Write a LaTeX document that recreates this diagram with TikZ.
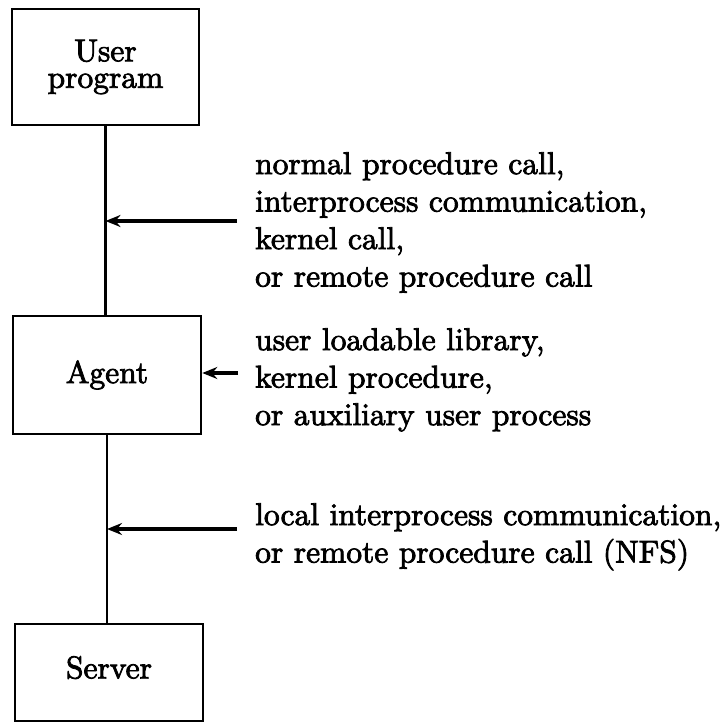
\documentclass[tikz,border=0pt]{standalone}
\usepackage{fontspec}
\newfontfamily\heavyfont{lmroman10-regular.otf}[FakeBold=2.5]
\usetikzlibrary{arrows.meta}
\begin{document}
\begin{tikzpicture}[x=1pt,y=-1pt,
  every node/.style={font=\heavyfont\fontsize{31.5}{37.5}\selectfont},
  boxnode/.style={draw,line width=2.6pt,inner sep=0pt,align=center},
  vline/.style={line width=2.4pt},
  callarrow/.style={line width=4.5pt,-{Stealth[length=15pt,width=12pt,inset=5pt]}},
  label/.style={align=left,anchor=north west,inner sep=0pt}]
\useasboundingbox (0,0) rectangle (725,722);
\node[boxnode,minimum width=187pt,minimum height=116pt,font=\heavyfont\fontsize{31.5}{26.5}\selectfont] (user) at (105.5,67) {User\\program};
\node[boxnode,minimum width=188pt,minimum height=118pt] (agent) at (107,375) {Agent};
\node[boxnode,minimum width=188pt,minimum height=97pt,text depth=10.5pt] (server) at (109,672.5) {Server};
\draw[vline] (user.south) -- (user.south |- agent.north);
\draw[vline] (agent.south) -- (agent.south |- server.north);
\coordinate (a1) at (237,221);
\coordinate (a2) at (238,373);
\coordinate (a3) at (237,529);
\draw[callarrow] (a1) -- (a1 -| user.south);
\draw[callarrow] (a2) -- (a2 -| agent.east);
\draw[callarrow] (a3) -- (a3 -| agent.south);
\node[label] (t1) at (255,152) {normal procedure call,\\interprocess communication,\\kernel call,\\or remote procedure call};
\node[label] (t2) at (255,328) {user loadable library,\\kernel procedure,\\or auxiliary user process};
\node[label] (t3) at (255,503) {local interprocess communication,\\or remote procedure call (NFS)};
\end{tikzpicture}
\end{document}
